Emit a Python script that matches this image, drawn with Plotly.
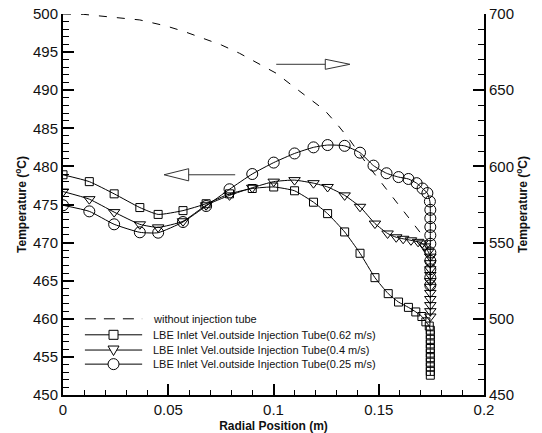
import plotly.graph_objects as go

# ---------------- data ----------------
# without injection tube (right axis)
x_dash = [0.0, 0.0096, 0.0365, 0.0491, 0.0578, 0.0664, 0.0752, 0.0839, 0.0926, 0.1013,
          0.1091, 0.1171, 0.1242, 0.1305, 0.1360, 0.1447, 0.1534, 0.1589, 0.1645, 0.1700, 0.1739]
t_dash = [700.0, 699.8, 696.1, 692.1, 688.4, 684.1, 679.7, 674.2, 667.6, 661.1,
          652.8, 644.7, 637.0, 627.2, 617.8, 600.9, 585.5, 576.3, 566.0, 556.1, 545.1]

# 0.62 m/s (squares)
x_sq = [0.0, 0.0125, 0.0243, 0.0365, 0.0452, 0.0570, 0.0680, 0.0791, 0.0899, 0.1001,
        0.1100, 0.1190, 0.1257, 0.1338, 0.1411, 0.1482, 0.1545, 0.1594, 0.1641, 0.1676,
        0.1705, 0.1724, 0.1740,
        0.1745, 0.1745, 0.1745, 0.1745, 0.1745, 0.1745, 0.1745, 0.1745, 0.1745, 0.1745, 0.1745]
t_sq = [478.9, 478.0, 476.4, 474.6, 473.7, 474.2, 475.1, 476.4, 477.1, 477.3,
        476.8, 475.3, 473.8, 471.4, 468.6, 465.4, 463.3, 462.2, 461.5, 460.9,
        460.3, 459.6, 459.05,
        458.5, 457.9, 457.3, 456.7, 456.1, 455.5, 454.9, 454.3, 453.7, 453.1, 452.6]

# 0.4 m/s (triangles)
x_tri = [0.0, 0.0125, 0.0243, 0.0365, 0.0452, 0.0570, 0.0680, 0.0791, 0.0899, 0.1001,
         0.1100, 0.1190, 0.1257, 0.1338, 0.1411, 0.1482, 0.1542, 0.1583, 0.1616, 0.1653,
         0.1687, 0.1706, 0.1720, 0.1735,
         0.1745, 0.1745, 0.1745, 0.1745, 0.1745, 0.1745, 0.1745, 0.1745, 0.1745, 0.1745, 0.1745]
t_tri = [476.7, 475.7, 474.0, 472.4, 472.0, 472.8, 474.9, 476.2, 477.2, 478.0,
         478.2, 477.8, 477.3, 476.2, 474.7, 472.5, 471.2, 470.7, 470.5, 470.3,
         470.1, 469.9, 469.5, 468.8,
         468.15, 467.3, 466.5, 465.75, 464.95, 464.2, 463.4, 462.6, 461.8, 461.0, 460.3]

# 0.25 m/s (circles)
x_cir = [0.0, 0.0125, 0.0243, 0.0365, 0.0452, 0.0570, 0.0680, 0.0791, 0.0899, 0.1001,
         0.1100, 0.1190, 0.1257, 0.1338, 0.1411, 0.1475, 0.1537, 0.1594, 0.1641, 0.1680,
         0.1708, 0.1731, 0.1743,
         0.1745, 0.1745, 0.1745, 0.1745, 0.1745, 0.1745, 0.1745, 0.1745, 0.1745, 0.1745]
t_cir = [474.9, 474.1, 472.4, 471.35, 471.3, 472.7, 474.8, 477.0, 479.0, 480.5,
         481.7, 482.5, 482.8, 482.7, 481.8, 480.1, 479.1, 478.6, 478.35, 477.8,
         477.1, 476.5, 475.4,
         474.3, 473.2, 472.05, 470.95, 469.85, 468.7, 467.6, 466.5, 465.4, 464.4]

names = ["without injection tube",
         "LBE Inlet Vel.outside Injection Tube(0.62 m/s)",
         "LBE Inlet Vel.outside Injection Tube(0.4 m/s)",
         "LBE Inlet Vel.outside Injection Tube(0.25 m/s)"]
legend_symbols = [None, "square", "triangle", "circle"]

# arrows (data coords, left-axis temperatures)
arrow_left = dict(tail=0.0818, base=0.0597, tip=0.0480, y=478.9, half=0.8)
arrow_right = dict(tail=0.1013, base=0.1246, tip=0.1363, y=493.4, half=0.66)

# legend placement (paper fractions of plot area)
LEG_X0, LEG_X1, LEG_XT = 0.052, 0.188, 0.208
LEG_Y = [0.200, 0.158, 0.118, 0.081]

FONT = "Liberation Sans, Arial, Helvetica, sans-serif"
INK = "#111"

fig = go.Figure()
fig.add_trace(go.Scatter(x=x_dash, y=t_dash, name=names[0], yaxis="y2", mode="lines",
                         line=dict(color="black", width=1, dash="8px,10px")))
line_common = dict(color="black", width=1, shape="spline", smoothing=0.5)
fig.add_trace(go.Scatter(x=x_sq, y=t_sq, name=names[1], mode="lines+markers", line=line_common,
                         marker=dict(symbol="square-open", size=8, color="black", line=dict(width=1))))
fig.add_trace(go.Scatter(x=x_tri, y=t_tri, name=names[2], mode="lines+markers", line=line_common,
                         marker=dict(symbol="triangle-down-open", size=10, color="black", line=dict(width=1))))
fig.add_trace(go.Scatter(x=x_cir, y=t_cir, name=names[3], mode="lines+markers", line=line_common,
                         marker=dict(symbol="circle-open", size=11, color="black", line=dict(width=1))))

shapes = []
for a in (arrow_left, arrow_right):
    shapes.append(dict(type="line", xref="x", yref="y", x0=a["tail"], x1=a["base"], y0=a["y"], y1=a["y"],
                       line=dict(color="#333", width=1)))
    path = "M {t},{y} L {b},{y1} L {b},{y2} Z".format(t=a["tip"], b=a["base"], y=a["y"],
                                                     y1=a["y"] + a["half"], y2=a["y"] - a["half"])
    shapes.append(dict(type="path", xref="x", yref="y", path=path, line=dict(color="#333", width=1)))

# custom legend
annotations = []
xm = (LEG_X0 + LEG_X1) / 2
for name, sym, ly in zip(names, legend_symbols, LEG_Y):
    dash = "11px,8px" if sym is None else "solid"
    shapes.append(dict(type="line", xref="paper", yref="paper", x0=LEG_X0, x1=LEG_X1, y0=ly, y1=ly,
                       line=dict(color="black", width=1, dash=dash)))
    common = dict(xref="paper", yref="paper", xsizemode="pixel", ysizemode="pixel",
                  xanchor=xm, yanchor=ly, fillcolor="white", line=dict(color="black", width=1))
    if sym == "square":
        shapes.append(dict(type="rect", x0=-4.5, x1=4.5, y0=-4.5, y1=4.5, **common))
    elif sym == "circle":
        shapes.append(dict(type="circle", x0=-5.5, x1=5.5, y0=-5.5, y1=5.5, **common))
    elif sym == "triangle":
        shapes.append(dict(type="path", path="M -5.5,4 L 5.5,4 L 0,-5.5 Z", **common))
    annotations.append(dict(xref="paper", yref="paper", x=LEG_XT, y=ly, xanchor="left", yanchor="middle",
                            text=name, showarrow=False, font=dict(family=FONT, size=11, color=INK)))

axis_common = dict(showline=True, linecolor="black", linewidth=2, ticks="inside", tickcolor="black",
                   tickwidth=2, showgrid=False, zeroline=False, mirror=False, automargin=False,
                   tickfont=dict(family=FONT, size=15, color=INK))

fig.update_layout(
    width=542, height=433,
    margin=dict(l=63, r=58, t=14, b=38),
    plot_bgcolor="white", paper_bgcolor="white",
    shapes=shapes,
    annotations=annotations,
    showlegend=False,
    xaxis=dict(range=[0, 0.2], dtick=0.05, ticklen=11,
               minor=dict(dtick=0.01, ticklen=5, ticks="inside", tickwidth=1, tickcolor="black"),
               title=dict(text="<b>Radial Position (m)</b>", font=dict(family=FONT, size=12, color=INK),
                          standoff=6),
               **axis_common),
    yaxis=dict(range=[450, 500], dtick=5, ticklen=11,
               minor=dict(dtick=1, ticklen=6, ticks="inside", tickwidth=1, tickcolor="black"),
               title=dict(text="<b>Temperature (<sup>o</sup>C)</b>", font=dict(family=FONT, size=12, color=INK),
                          standoff=4),
               **axis_common),
    yaxis2=dict(range=[450, 700], dtick=50, ticklen=11, overlaying="y", side="right",
                minor=dict(dtick=10, ticklen=6, ticks="inside", tickwidth=1, tickcolor="black"),
                title=dict(text="<b>Temperature (<sup>o</sup>C)</b>", font=dict(family=FONT, size=12, color=INK),
                           standoff=4),
                **axis_common),
)

fig.write_html("out.html")
